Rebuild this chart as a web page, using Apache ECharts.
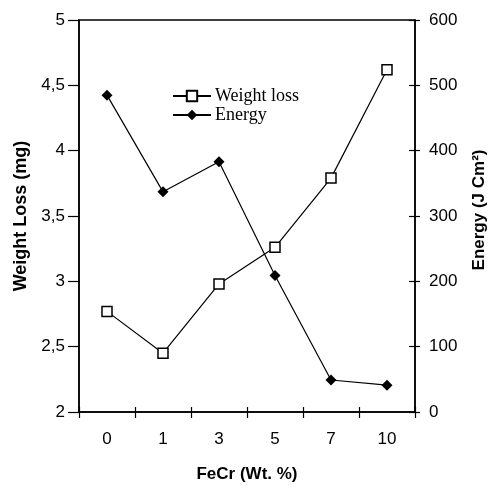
<!DOCTYPE html>
<html>
<head>
<meta charset="utf-8">
<script src="https://cdn.jsdelivr.net/npm/echarts@6/dist/echarts.min.js"></script>
<style>
  html, body { margin: 0; padding: 0; background: #fff; }
  #chart { width: 490px; height: 488px; }
</style>
</head>
<body>
<div id="chart"></div>
<script>
// FeCr content (Wt. %) on the category axis
const categories = ['0', '1', '3', '5', '7', '10'];
// Weight loss in mg (left axis)
const weightLoss = [2.77, 2.45, 2.98, 3.26, 3.79, 4.62];
// Absorbed energy in J Cm^2 (right axis)
const energy = [485, 337, 383, 209, 49, 41];

const leftTicks = { min: 2, max: 5, interval: 0.5 };
const rightTicks = { min: 0, max: 600, interval: 100 };

const FONT = 'Liberation Sans, Arial, sans-serif';
const SERIF = 'Liberation Serif, Times New Roman, serif';
const AXIS_COLOR = '#000';

const chart = echarts.init(document.getElementById('chart'), null, { renderer: 'canvas' });

const grid = { left: 79, right: 75, top: 20, bottom: 75 };

chart.setOption({
  animation: false,
  backgroundColor: '#fff',
  grid: Object.assign({ show: true, borderColor: AXIS_COLOR, borderWidth: 1.5, backgroundColor: 'transparent' }, grid),
  legend: {
    orient: 'vertical',
    left: 167,
    top: 82,
    itemWidth: 38,
    itemHeight: 13,
    itemGap: 1,
    data: ['Weight loss', 'Energy'],
    textStyle: { fontFamily: SERIF, fontSize: 18, color: '#000', padding: [0, 0, 0, -1] }
  },
  xAxis: [
    {
      type: 'category',
      data: categories,
      boundaryGap: true,
      axisLine: { lineStyle: { color: AXIS_COLOR, width: 1.5 } },
      axisTick: { show: true, length: 6, lineStyle: { color: AXIS_COLOR, width: 1.2 } },
      axisLabel: { fontFamily: FONT, fontSize: 17, color: '#000', margin: 19 },
      name: 'FeCr (Wt. %)',
      nameLocation: 'middle',
      nameGap: 54,
      nameTextStyle: { fontFamily: FONT, fontSize: 17, fontWeight: 'bold', color: '#000' }
    },
    {
      // inward half of the bottom tick marks
      type: 'category',
      data: categories,
      position: 'bottom',
      gridIndex: 0,
      boundaryGap: true,
      axisLine: { show: false },
      axisTick: { show: true, inside: true, length: 5, lineStyle: { color: AXIS_COLOR, width: 1.2 } },
      axisLabel: { show: false }
    }
  ],
  yAxis: [
    {
      type: 'value',
      position: 'left',
      min: leftTicks.min,
      max: leftTicks.max,
      interval: leftTicks.interval,
      splitLine: { show: false },
      axisLine: { show: true, lineStyle: { color: AXIS_COLOR, width: 1.5 } },
      axisTick: { show: true, length: 11, lineStyle: { color: AXIS_COLOR, width: 1.2 } },
      axisLabel: {
        fontFamily: FONT, fontSize: 17, color: '#000', margin: 14,
        formatter: v => String(v).replace('.', ',')
      }
    },
    {
      type: 'value',
      position: 'right',
      min: rightTicks.min,
      max: rightTicks.max,
      interval: rightTicks.interval,
      splitLine: { show: false },
      axisLine: { show: true, lineStyle: { color: AXIS_COLOR, width: 1.5 } },
      axisTick: { show: true, length: 5, lineStyle: { color: AXIS_COLOR, width: 1.2 } },
      axisLabel: { fontFamily: FONT, fontSize: 17, color: '#000', margin: 14 }
    },
    {
      // inward half of the right tick marks
      type: 'value',
      position: 'right',
      min: rightTicks.min,
      max: rightTicks.max,
      interval: rightTicks.interval,
      splitLine: { show: false },
      axisLine: { show: false },
      axisTick: { show: true, inside: true, length: 6, lineStyle: { color: AXIS_COLOR, width: 1.2 } },
      axisLabel: { show: false }
    }
  ],
  series: [
    {
      name: 'Energy',
      type: 'line',
      yAxisIndex: 1,
      data: energy,
      symbol: 'diamond',
      symbolSize: 11,
      z: 2,
      lineStyle: { color: '#000', width: 1.2 },
      itemStyle: { color: '#000', borderColor: '#000', borderWidth: 0 }
    },
    {
      name: 'Weight loss',
      type: 'line',
      yAxisIndex: 0,
      data: weightLoss,
      symbol: 'rect',
      symbolSize: 10,
      z: 3,
      lineStyle: { color: '#000', width: 1.2 },
      itemStyle: { color: '#fff', borderColor: '#000', borderWidth: 1.5 }
    }
  ],
  graphic: [
    {
      type: 'text',
      x: 21,
      y: 216,
      rotation: Math.PI / 2,
      style: {
        text: 'Weight Loss (mg)',
        font: 'bold 18px ' + FONT,
        fill: '#000',
        align: 'center',
        verticalAlign: 'middle'
      }
    },
    {
      type: 'text',
      x: 479,
      y: 210,
      rotation: Math.PI / 2,
      style: {
        text: 'Energy (J Cm²)',
        font: 'bold 17px ' + FONT,
        fill: '#000',
        align: 'center',
        verticalAlign: 'middle'
      }
    }
  ]
});
</script>
</body>
</html>
